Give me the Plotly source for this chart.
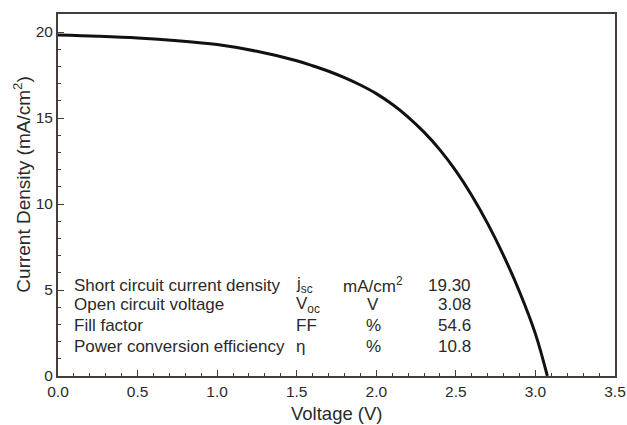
import plotly.graph_objects as go

# J-V curve of the solar cell
voltage = [0.0, 0.25, 0.5, 0.75, 1.0, 1.25, 1.5, 1.6, 1.7, 1.8, 1.9, 2.0, 2.1, 2.2,
           2.3, 2.4, 2.5, 2.6, 2.7, 2.8, 2.9, 3.0, 3.075]
current = [19.83, 19.76, 19.66, 19.5, 19.27, 18.88, 18.33, 18.04, 17.72, 17.35, 16.92, 16.42,
           15.8, 15.06, 14.18, 13.15, 11.93, 10.5, 8.86, 7.0, 4.9, 2.45, 0.0]

# Photovoltaic parameters table
param_names = ["Short circuit current density", "Open circuit voltage",
               "Fill factor", "Power conversion efficiency"]
param_symbols = ["j<sub>sc</sub>", "V<sub>oc</sub>", "FF", "η"]
param_units = ["mA/cm<sup>2</sup>", "V", "%", "%"]
param_values = ["19.30", "3.08", "54.6", "10.8"]

x_ticks = [0.0, 0.5, 1.0, 1.5, 2.0, 2.5, 3.0, 3.5]
y_ticks = [0, 5, 10, 15, 20]

FONT = "Liberation Sans, Arial, sans-serif"
TXT = "#2a2a2a"
AX = "#463c3c"

fig = go.Figure()
fig.add_trace(go.Scatter(x=voltage, y=current, mode="lines",
                         line=dict(color="#111111", width=3, shape="spline", smoothing=1.0),
                         showlegend=False, hoverinfo="skip"))

fig.update_xaxes(range=[0, 3.5], tickvals=x_ticks, ticktext=[f"{v:.1f}" for v in x_ticks],
                 ticks="inside", ticklen=6, tickwidth=1.2, tickcolor=AX,
                 minor=dict(dtick=0.1, ticks="inside", ticklen=3, tickcolor=AX, tickwidth=1),
                 showline=True, linecolor=AX, linewidth=2, mirror=True,
                 showgrid=False, zeroline=False, automargin=False,
                 tickfont=dict(size=15.5, color=TXT, family=FONT))
fig.update_yaxes(range=[0, 21.05], tickvals=y_ticks,
                 ticks="inside", ticklen=6, tickwidth=1.2, tickcolor=AX,
                 minor=dict(dtick=1, ticks="inside", ticklen=3, tickcolor=AX, tickwidth=1),
                 showline=True, linecolor=AX, linewidth=2, mirror=True,
                 showgrid=False, zeroline=False, automargin=False,
                 tickfont=dict(size=15.5, color=TXT, family=FONT))

# Axis titles
fig.add_annotation(x=0.5, y=-0.104, xref="paper", yref="paper", text="Voltage (V)",
                   showarrow=False, xanchor="center", yanchor="middle",
                   font=dict(size=18.5, color=TXT, family=FONT))
fig.add_annotation(x=-0.065, y=0.528, xref="paper", yref="paper",
                   text="Current Density (mA/cm<sup>2</sup>)", textangle=-90,
                   showarrow=False, xanchor="center", yanchor="middle",
                   font=dict(size=19, color=TXT, family=FONT))

row_y = [5.29, 4.13, 2.91, 1.69]
for i in range(4):
    fig.add_annotation(x=0.026, y=row_y[i], xref="paper", yref="y", text=param_names[i],
                       showarrow=False, xanchor="left", yanchor="middle",
                       font=dict(size=17, color=TXT, family=FONT))
    fig.add_annotation(x=0.424, y=row_y[i], xref="paper", yref="y", text=param_symbols[i],
                       showarrow=False, xanchor="left", yanchor="middle",
                       font=dict(size=17, color=TXT, family=FONT))
    fig.add_annotation(x=0.566, y=row_y[i], xref="paper", yref="y", text=param_units[i],
                       showarrow=False, xanchor="center", yanchor="middle",
                       font=dict(size=17, color=TXT, family=FONT))
    fig.add_annotation(x=0.745, y=row_y[i], xref="paper", yref="y", text=param_values[i],
                       showarrow=False, xanchor="right", yanchor="middle",
                       font=dict(size=17, color=TXT, family=FONT))

fig.update_layout(width=627, height=425, margin=dict(l=58, r=12, t=14, b=49),
                  paper_bgcolor="white", plot_bgcolor="white")

fig.write_html("out.html")
